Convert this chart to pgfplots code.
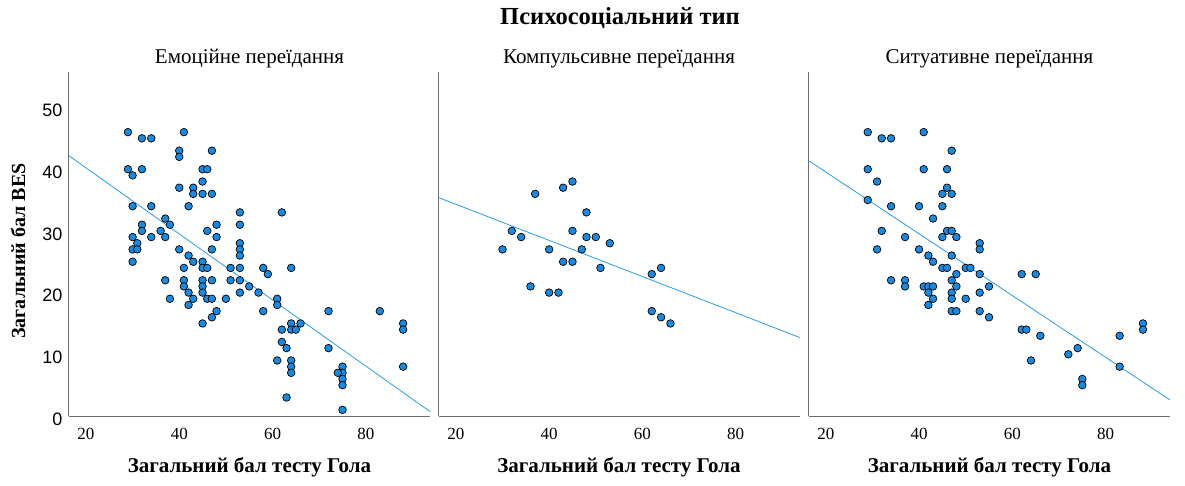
\documentclass[border=0pt]{standalone}
\usepackage{fontspec}
\setmainfont{Liberation Serif}
\newfontfamily\sansf{Liberation Sans}
\usepackage{pgfplots}
\pgfplotsset{compat=1.18}
\definecolor{ptblue}{RGB}{27,137,222}
\definecolor{lnblue}{RGB}{40,155,235}
\definecolor{spine}{RGB}{110,110,110}

\pgfplotsset{
  panel/.style={
    scale only axis, width=361.5pt, height=344pt,
    xmin=16.3, xmax=93.8, ymin=0, ymax=55.75,
    enlargelimits=false,
    axis x line=bottom, axis y line=left,
    axis line style={-, draw=spine, line width=0.8pt},
    major tick length=0pt,
    xtick={20,40,60,80}, ytick={0,10,20,30,40,50},
    /pgf/number format/assume math mode=true,
    xticklabel style={font=\rmfamily\fontsize{17}{17}\selectfont, anchor=north, inner sep=0pt, yshift=-12pt},
    yticklabel style={font=\sansf\fontsize{18}{18}\selectfont, anchor=east, inner sep=0pt, xshift=-6pt, yshift=-3pt},
    clip=false,
  },
  pts/.style={only marks, mark=*, mark size=3.8pt, mark options={fill=ptblue, draw=black, line width=0.7pt}},
  reg/.style={no marks, draw=lnblue, line width=0.8pt},
}

\begin{document}
\begin{tikzpicture}
\useasboundingbox (0pt,0pt) rectangle (1185pt,485pt);

% Panel 1
\begin{axis}[panel, at={(68.7pt,69pt)}, anchor=south west]
\addplot[reg] coordinates {(16.3,42.2) (93.8,0.7)};
\addplot[pts] coordinates {
(29,46)(32,45)(34,45)(41,46)(40,43)(40,42)(47,43)(29,40)(30,39)(32,40)(45,40)(46,40)(45,38)
(40,37)(43,37)(43,36)(45,36)(47,36)(30,34)(34,34)(42,34)(53,33)(53,31)(37,32)(38,31)(32,31)
(32,30)(36,30)(46,30)(48,31)(30,29)(34,29)(37,29)(48,29)(31,28)(30,27)(31,27)(30,25)(40,27)
(47,27)(53,28)(53,27)(53,26)(42,26)(43,25)(45,25)(41,24)(45,24)(46,24)(51,24)(53,24)(37,22)
(41,22)(41,21)(45,22)(45,21)(47,22)(51,22)(53,22)(42,20)(45,20)(53,20)(55,21)(57,20)(38,19)
(43,19)(46,19)(47,19)(50,19)(42,18)(48,17)(47,16)(45,15)(62,33)(58,24)(59,23)(64,24)(61,19)
(61,18)(58,17)(72,17)(83,17)(88,15)(88,14)(64,15)(66,15)(62,14)(64,14)(65,14)(62,12)(63,11)
(72,11)(61,9)(64,9)(64,8)(64,7)(75,8)(75,7)(74,7)(75,6)(75,5)(88,8)(63,3)(75,1)
};
\end{axis}

% Panel 2
\begin{axis}[panel, at={(438.6pt,69pt)}, anchor=south west, yticklabels={}]
\addplot[reg] coordinates {(16.3,35.4) (93.8,12.7)};
\addplot[pts] coordinates {
(37,36)(43,37)(45,38)(48,33)(32,30)(34,29)(30,27)(40,27)(45,30)(48,29)(50,29)(53,28)
(47,27)(43,25)(45,25)(51,24)(62,23)(64,24)(36,21)(40,20)(42,20)(62,17)(64,16)(66,15)
};
\end{axis}

% Panel 3
\begin{axis}[panel, at={(808.5pt,69pt)}, anchor=south west, yticklabels={}]
\addplot[reg] coordinates {(16.3,41.4) (93.8,2.6)};
\addplot[pts] coordinates {
(29,46)(32,45)(34,45)(41,46)(47,43)(29,40)(41,40)(46,40)(31,38)(46,37)(45,36)(47,36)(29,35)
(34,34)(40,34)(45,34)(43,32)(46,30)(47,30)(45,29)(48,29)(32,30)(37,29)(53,28)(53,27)(31,27)
(40,27)(42,26)(43,25)(47,26)(45,24)(46,24)(50,24)(51,24)(48,23)(53,23)(47,22)(48,21)(55,21)
(34,22)(37,22)(37,21)(41,21)(42,21)(43,21)(42,20)(43,19)(42,18)(47,20)(47,19)(50,19)(53,20)
(47,17)(48,17)(53,17)(55,16)(62,23)(65,23)(62,14)(63,14)(66,13)(64,9)(72,10)(74,11)(75,6)
(75,5)(83,13)(83,8)(88,15)(88,14)
};
\end{axis}

% Texts
\node[font=\bfseries\fontsize{24.5}{24.5}\selectfont] at (620pt,467pt) {Психосоціальний тип};
\node[font=\fontsize{21}{21}\selectfont] at (249.5pt,426pt) {Емоційне переїдання};
\node[font=\fontsize{21}{21}\selectfont] at (619pt,426pt) {Компульсивне переїдання};
\node[font=\fontsize{21}{21}\selectfont] at (989.5pt,426pt) {Ситуативне переїдання};
\foreach \cx in {249.5,619,989.5}{
  \node[font=\bfseries\fontsize{21}{21}\selectfont] at (\cx pt,18pt) {Загальний бал тесту Гола};
}
\node[font=\bfseries\fontsize{20}{20}\selectfont, rotate=90] at (18pt,234pt) {Загальний бал BES};
\end{tikzpicture}
\end{document}
